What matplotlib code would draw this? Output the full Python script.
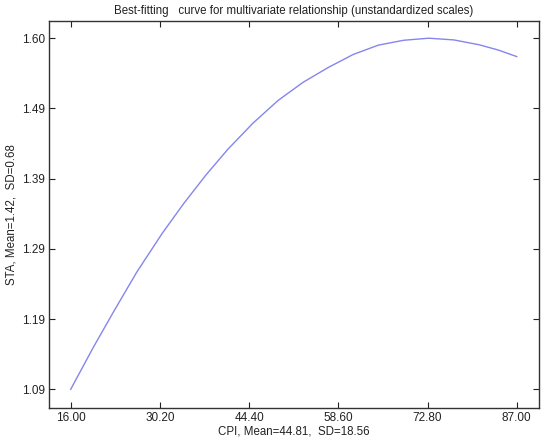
import matplotlib
matplotlib.use("Agg")
import matplotlib.pyplot as plt

# values
cpi = [16.00, 19.60, 22.78, 26.50, 30.60, 34.00, 37.50, 41.00, 45.00, 49.00,
       53.00, 57.00, 61.00, 65.00, 69.00, 73.00, 77.00, 81.00, 84.00, 87.00]
sta = [1.0900, 1.1510, 1.2020, 1.2600, 1.3170, 1.3600, 1.4010, 1.4385, 1.4765, 1.5095,
       1.5360, 1.5575, 1.5765, 1.5900, 1.5970, 1.6000, 1.5975, 1.5905, 1.5830, 1.5733]

xticks = [16.00, 30.20, 44.40, 58.60, 72.80, 87.00]
xtick_labels = ["16.00", "30.20", "44.40", "58.60", "72.80", "87.00"]
yticks = [1.090, 1.192, 1.294, 1.396, 1.498, 1.600]
ytick_labels = ["1.09", "1.19", "1.29", "1.39", "1.49", "1.60"]

plt.rcParams['font.family'] = ['Liberation Sans', 'DejaVu Sans']

fig = plt.figure(figsize=(5.5, 4.41), dpi=100)
ax = fig.add_axes([0.0896, 0.0755, 0.8899, 0.8769])

ax.plot(cpi, sta, color='#8585ee', lw=1.0)

ax.set_xlim(12.59, 90.5)
ax.set_ylim(1.0633, 1.625)
ax.set_xticks(xticks)
ax.set_xticklabels(xtick_labels)
ax.set_yticks(yticks)
ax.set_yticklabels(ytick_labels)
ax.tick_params(direction='in', length=4, width=0.8, top=True, right=True,
               labelsize=8.5, colors='#222222', pad=3)
for s in ax.spines.values():
    s.set_linewidth(1.0)
    s.set_color('#333333')

ax.set_title("Best-fitting   curve for multivariate relationship (unstandardized scales)",
             fontsize=8.3, pad=5, color='#222222')
ax.set_xlabel("CPI, Mean=44.81,  SD=18.56", fontsize=8.3, labelpad=1, color='#222222')
ax.set_ylabel("STA, Mean=1.42,  SD=0.68", fontsize=8.3, labelpad=3, color='#222222')

fig.savefig("out.png", dpi=100)
